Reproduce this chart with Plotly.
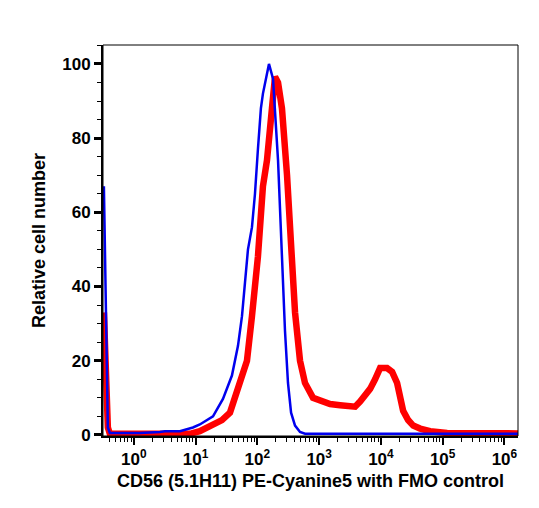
import plotly.graph_objects as go

# Fluorescence intensity (x) and relative cell number (y)
fmo_x = [0.327, 0.352, 0.379, 0.408, 1.25, 2.64, 3.18, 5.57, 9.04, 11.7, 19.1, 27.7,
         38.7, 48.5, 56.3, 62.9, 70.4, 81.7, 91.4, 102, 114, 123, 138, 154, 179,
         216, 250, 280, 313, 351, 407, 490, 590, 1.67e6]
fmo_y = [67, 30, 2, 0.5, 0.5, 0.8, 1.0, 1.0, 2.0, 2.8, 5, 9.7,
         16, 24, 32, 41, 50, 56, 65, 77, 88, 92, 96, 100, 96,
         74, 48, 28, 14, 6, 2.5, 0.8, 0.3, 0.3]

cd56_x = [0.327, 0.352, 0.379, 0.408, 8.09, 11.7, 19.1, 26.7, 36.0, 48.5, 67.8,
          81.7, 91.4, 102, 123, 143, 172, 193, 216, 250, 302, 351, 407, 490,
          590, 796, 1503, 2183, 3170, 3820, 4600, 5540, 6680, 8050, 9700,
          12600, 15200, 18300, 22900, 27600, 33300, 43200, 62700, 118000, 1.67e6]
cd56_y = [33, 20, 2, 0.3, 0.3, 1, 2.5, 4, 6, 12, 20,
          32, 40, 48, 67, 74, 88, 96.5, 95, 88, 70, 48, 33, 20,
          14, 10, 8.3, 8, 7.5, 7.6, 9, 10.5, 12.4, 15, 18,
          18, 17, 14, 6.5, 4, 2.5, 1.7, 1, 0.5, 0.4]

x_tickvals = [1, 10, 100, 1000, 10000, 100000, 1000000]
x_ticktext = ["10<sup>0</sup>", "10<sup>1</sup>", "10<sup>2</sup>", "10<sup>3</sup>",
              "10<sup>4</sup>", "10<sup>5</sup>", "10<sup>6</sup>"]
x_minor_vals = [m * 10 ** e for e in range(-1, 7) for m in range(2, 10)]
y_tickvals = [0, 20, 40, 60, 80, 100]
y_minor_vals = [5, 10, 15, 25, 30, 35, 45, 50, 55, 65, 70, 75, 85, 90, 95, 105]

fig = go.Figure()
fig.add_trace(go.Scatter(x=cd56_x, y=cd56_y, mode="lines",
                         line=dict(color="#ff0000", width=6.5), showlegend=False))
fig.add_trace(go.Scatter(x=fmo_x, y=fmo_y, mode="lines",
                         line=dict(color="#0000ee", width=2.5), showlegend=False))

font_family = "Liberation Sans, Arial, sans-serif"

fig.update_layout(
    width=539, height=508,
    margin=dict(l=103, r=21, t=45, b=72),
    paper_bgcolor="white", plot_bgcolor="white",
    font=dict(family=font_family, color="black"),
    xaxis=dict(
        type="log", range=[-0.5, 6.22],
        tickvals=x_tickvals, ticktext=x_ticktext,
        tickfont=dict(size=17, family=font_family, weight="bold"),
        ticks="outside", ticklen=7, tickwidth=2, tickcolor="black",
        minor=dict(ticks="outside", ticklen=4, tickwidth=1.2, tickcolor="black",
                   tickmode="array", tickvals=x_minor_vals),
        showline=True, linewidth=2, linecolor="black",
        showgrid=False, zeroline=False,
        title=dict(text="CD56 (5.1H11) PE-Cyanine5 with FMO control",
                   font=dict(size=18, family=font_family, weight="bold"), standoff=6),
    ),
    yaxis=dict(
        range=[-0.3, 105.1],
        tickvals=y_tickvals,
        tickfont=dict(size=17, family=font_family, weight="bold"),
        ticks="outside", ticklen=7, tickwidth=2.5, tickcolor="black",
        minor=dict(ticks="outside", ticklen=4, tickwidth=1.2, tickcolor="black",
                   tickmode="array", tickvals=y_minor_vals),
        showline=True, linewidth=2, linecolor="black",
        showgrid=False, zeroline=False,
        title=dict(text="Relative cell number",
                   font=dict(size=18, family=font_family, weight="bold"), standoff=12),
    ),
    shapes=[dict(type="rect", xref="paper", yref="paper", x0=0, y0=0, x1=1, y1=1,
                 line=dict(color="black", width=1), layer="above")],
)

fig.write_html("out.html")
